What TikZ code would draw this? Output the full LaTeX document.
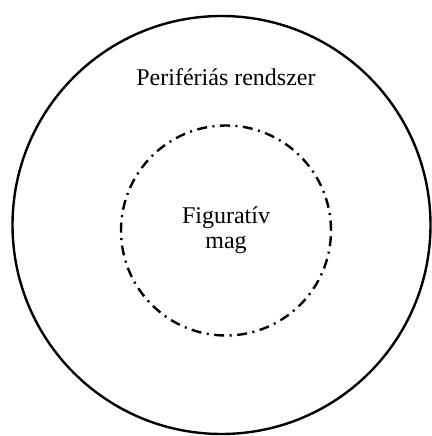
\documentclass[tikz,border=0pt]{standalone}
\usepackage{fontspec}
\setmainfont{Liberation Serif}
\usepackage{tikz}
\usetikzlibrary{positioning}

\begin{document}
\begin{tikzpicture}[
  x=1pt, y=1pt,
  ring/.style={circle, draw=black, line width=2.4pt, inner sep=0pt},
  core/.style={circle, draw=black, line width=2.4pt, inner sep=0pt, dash pattern=on 10pt off 5.5pt on 2pt off 5.5pt},
  lbl/.style={font=\fontsize{24}{25}\selectfont, align=center, inner sep=0pt}
]
\useasboundingbox (0,0) rectangle (431,436);

% Outer and inner circles
\node[ring, minimum size=418pt] (periph) at (221.5, 211) {};
\node[core, minimum size=210pt] (mag) at (226, 205.5) {};

% Labels
\node[lbl, anchor=base] (periphlbl) at (226, 350) {Perifériás rendszer};
\node[lbl, anchor=base] (maglbl) at (226, 187) {Figuratív\\mag};
\end{tikzpicture}
\end{document}
